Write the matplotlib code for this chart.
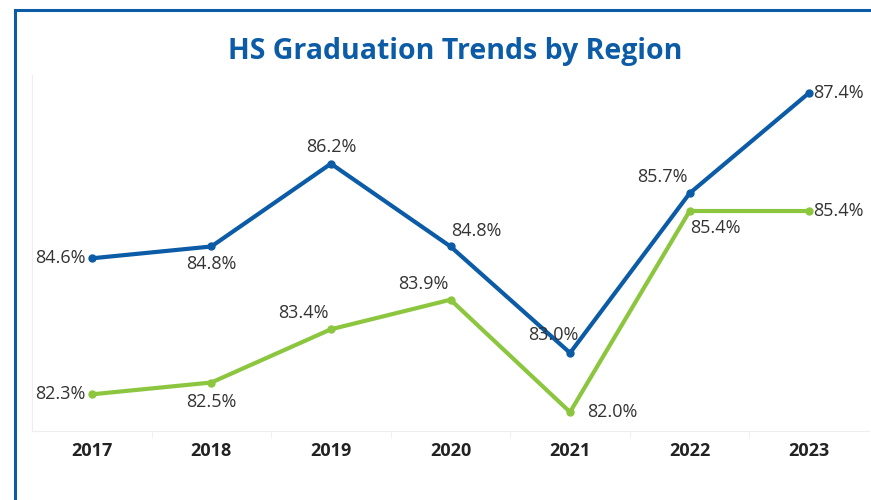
import matplotlib.pyplot as plt
from matplotlib.patches import Rectangle

years = ["2017", "2018", "2019", "2020", "2021", "2022", "2023"]
region_a = [84.6, 84.8, 86.2, 84.8, 83.0, 85.7, 87.4]
region_b = [82.3, 82.5, 83.4, 83.9, 82.0, 85.4, 85.4]

# label placement per point: (dx, dy, ha, va) in pixels
pos_a = [(-6, 0, "right", "center"), (0, -9, "center", "top"), (0, 8, "center", "bottom"),
         (1, 6, "left", "bottom"), (8, 9, "right", "bottom"), (-2, 7, "right", "bottom"),
         (4, 0, "left", "center")]
pos_b = [(-6, 0, "right", "center"), (0, -10, "center", "top"), (-2, 7, "right", "bottom"),
         (-2, 7, "right", "bottom"), (17, 0, "left", "center"), (0, -8, "left", "top"),
         (4, 0, "left", "center")]

blue = "#0B5BA6"
green = "#8CC63F"
plt.rcParams["font.family"] = ["Open Sans", "DejaVu Sans"]

fig = plt.figure(figsize=(8.71, 5.0), dpi=100)
fig.patches.append(Rectangle((15 / 871, -0.1), 1.2, 1 - 10 / 500 + 0.1, transform=fig.transFigure,
                             fill=False, edgecolor=blue, linewidth=2.2))
ax = fig.add_axes([32 / 871, 1 - 431 / 500, 837 / 871, 356 / 500])

x = list(range(len(years)))
ax.plot(x, region_a, color=blue, lw=3, marker="o", ms=5, zorder=3)
ax.plot(x, region_b, color=green, lw=3, marker="o", ms=5, zorder=3)

for xs, vals, pos in [(x, region_a, pos_a), (x, region_b, pos_b)]:
    for xi, v, (dx, dy, ha, va) in zip(xs, vals, pos):
        ax.annotate(f"{v:.1f}%", (xi, v), xytext=(dx, dy), textcoords="offset pixels",
                    ha=ha, va=va, fontsize=13, color="#333333")

ax.set_xlim(-0.5, len(years) - 0.5)
ax.set_ylim(81.68, 87.7)
ax.set_yticks([])
ax.set_xticks(x)
ax.set_xticklabels(years, fontsize=13, fontweight="bold", color="#222222")
ax.set_xticks([i + 0.5 for i in range(len(years) - 1)], minor=True)
ax.tick_params(axis="x", which="major", length=0, pad=8)
ax.tick_params(axis="x", which="minor", length=5, color="#eeeeee", direction="out")
for s in ["top", "right"]:
    ax.spines[s].set_visible(False)
ax.spines["left"].set_color("#eeeeee")
ax.spines["bottom"].set_color("#eeeeee")

fig.text(455 / 871, 1 - 52 / 500, "HS Graduation Trends by Region", ha="center", va="center",
         fontsize=20.5, fontweight="bold", color=blue)

fig.savefig("out.png", dpi=100)
